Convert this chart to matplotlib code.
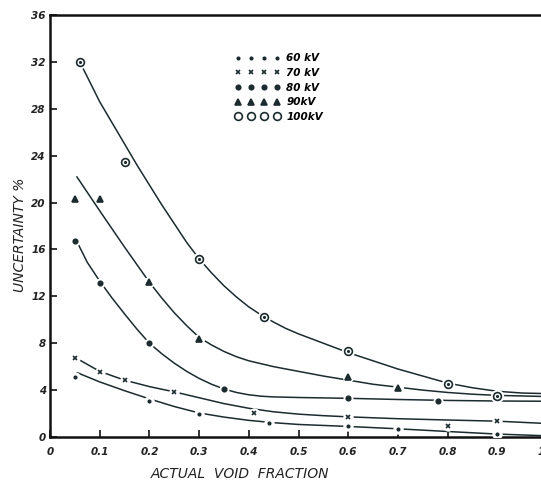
import matplotlib
matplotlib.use('Agg')
import matplotlib.pyplot as plt
from matplotlib.lines import Line2D

# measured points (actual void fraction, uncertainty %)
x60 = [0.05, 0.2, 0.3, 0.44, 0.6, 0.7, 0.9]
y60 = [5.1, 3.1, 2.0, 1.2, 0.9, 0.65, 0.25]
x70 = [0.05, 0.1, 0.15, 0.25, 0.41, 0.6, 0.8, 0.9]
y70 = [6.75, 5.55, 4.9, 3.85, 2.05, 1.7, 0.9, 1.35]
x80 = [0.05, 0.1, 0.2, 0.35, 0.6, 0.78]
y80 = [16.7, 13.1, 8.0, 4.1, 3.3, 3.1]
x90 = [0.05, 0.1, 0.2, 0.3, 0.6, 0.7, 0.9]
y90 = [20.3, 20.3, 13.2, 8.4, 5.1, 4.2, 3.5]
x100 = [0.06, 0.15, 0.30, 0.43, 0.6, 0.8, 0.9]
y100 = [32.0, 23.5, 15.2, 10.2, 7.3, 4.5, 3.5]

# hand-drawn fitted curves
cx60 = [0.054, 0.10, 0.15, 0.20, 0.25, 0.30, 0.35, 0.40, 0.45, 0.50, 0.60, 0.70, 0.80, 0.90, 1.0]
cy60 = [5.5, 4.7, 3.95, 3.25, 2.6, 2.05, 1.7, 1.42, 1.22, 1.07, 0.9, 0.7, 0.47, 0.25, 0.1]
cx70 = [0.056, 0.10, 0.15, 0.20, 0.25, 0.30, 0.35, 0.40, 0.45, 0.50, 0.55, 0.60, 0.70, 0.80, 0.90, 1.0]
cy70 = [6.65, 5.6, 4.85, 4.3, 3.85, 3.35, 2.85, 2.45, 2.15, 1.95, 1.82, 1.72, 1.56, 1.45, 1.35, 1.15]
cx80 = [0.055, 0.075, 0.10, 0.125, 0.15, 0.175, 0.20, 0.225, 0.25, 0.275, 0.30, 0.325, 0.35,
        0.375, 0.40, 0.425, 0.45, 0.50, 0.60, 0.70, 0.80, 0.90, 1.0]
cy80 = [16.6, 14.9, 13.3, 11.85, 10.5, 9.2, 8.0, 7.1, 6.3, 5.6, 5.0, 4.5, 4.1,
        3.8, 3.6, 3.48, 3.42, 3.37, 3.3, 3.2, 3.12, 3.07, 3.05]
cx90 = [0.054, 0.10, 0.15, 0.20, 0.225, 0.25, 0.275, 0.30, 0.325, 0.35, 0.375, 0.40, 0.45,
        0.50, 0.55, 0.60, 0.65, 0.70, 0.75, 0.80, 0.85, 0.90, 0.95, 1.0]
cy90 = [22.2, 19.3, 16.2, 13.2, 11.85, 10.6, 9.5, 8.5, 7.85, 7.3, 6.85, 6.5, 6.0,
        5.6, 5.2, 4.85, 4.5, 4.25, 4.0, 3.8, 3.65, 3.55, 3.5, 3.45]
cx100 = [0.06, 0.08, 0.10, 0.125, 0.15, 0.175, 0.20, 0.225, 0.25, 0.275, 0.30, 0.325, 0.35,
         0.375, 0.40, 0.425, 0.45, 0.475, 0.50, 0.55, 0.60, 0.65, 0.70, 0.75, 0.80, 0.85,
         0.90, 0.95, 1.0]
cy100 = [32.0, 30.3, 28.6, 26.8, 25.0, 23.2, 21.5, 19.8, 18.2, 16.6, 15.2, 14.0, 12.9,
         11.95, 11.1, 10.4, 9.8, 9.25, 8.8, 8.0, 7.2, 6.5, 5.8, 5.2, 4.6, 4.2,
         3.9, 3.75, 3.7]

labels = ['60 kV', '70 kV', '80 kV', '90kV', '100kV']
xticks = [0, 0.1, 0.2, 0.3, 0.4, 0.5, 0.6, 0.7, 0.8, 0.9, 1.0]
xticklabels = ['0', '0.1', '0.2', '0.3', '0.4', '0.5', '0.6', '0.7', '0.8', '0.9', '1.0']
yticks = [0, 4, 8, 12, 16, 20, 24, 28, 32, 36]

ink = '#1c2b2e'

fig = plt.figure(figsize=(5.41, 4.86), dpi=100)
ax = fig.add_axes([50 / 541, 49 / 486, 497 / 541, 422 / 486])

curves = [(cx60, cy60), (cx70, cy70), (cx80, cy80), (cx90, cy90), (cx100, cy100)]
for cx, cy in curves:
    ax.plot(cx, cy, color=ink, lw=1.1, zorder=2, solid_capstyle='round', solid_joinstyle='round')

points = [
    (x60, y60, '.', 3.5, ink),
    (x70, y70, 'x', 3.5, ink),
    (x80, y80, 'o', 3.2, ink),
    (x90, y90, '^', 4.0, ink),
    (x100, y100, 'o', 5.6, 'white'),
]
handles = []
for (px, py, mk, ms, fc), lab in zip(points, labels):
    # white halo so the curves break around the symbols
    ax.plot(px, py, ls='none', marker='o', ms=ms + 4, mfc='white', mec='none', zorder=3)
    ax.plot(px, py, ls='none', marker=mk, ms=ms, mfc=fc, mec=ink, mew=1.2, zorder=4)
    h = Line2D([], [], ls='none', marker=mk, ms=ms, mfc=fc, mec=ink, mew=1.2)
    handles.append(h)
# centre dot of the 100 kV symbols
ax.plot(x100, y100, ls='none', marker='.', ms=2.5, color=ink, zorder=5)

ax.set_xlim(0, 1.0)
ax.set_ylim(0, 36)
ax.set_xticks(xticks)
ax.set_xticklabels(xticklabels)
ax.set_yticks(yticks)

for s in ax.spines.values():
    s.set_linewidth(1.8)
    s.set_color('#111111')
ax.tick_params(direction='in', length=5, width=1.2, color='#111111')
ax.tick_params(axis='x', pad=7)
ax.tick_params(axis='y', pad=3)
for lab in ax.get_xticklabels() + ax.get_yticklabels():
    lab.set_fontstyle('italic')
    lab.set_fontweight('bold')
    lab.set_fontsize(7.5)
    lab.set_color('#222222')

fig.text(20 / 541, 1 - 235 / 486, 'UNCERTAINTY %', rotation=90, ha='center', va='center',
         fontsize=10, fontstyle='italic', color='#222222')
fig.text(240 / 541, 1 - 474 / 486, 'ACTUAL  VOID  FRACTION', ha='center', va='center',
         fontsize=10, fontstyle='italic', color='#222222')

leg = ax.legend(handles, labels, numpoints=4, frameon=False, loc='upper left',
                bbox_to_anchor=(230 / 541, 1 - 48 / 486), bbox_transform=fig.transFigure,
                handlelength=4.3, handletextpad=0.6, labelspacing=0.45, borderpad=0,
                prop={'size': 7.5, 'style': 'italic', 'weight': 'bold'})

fig.savefig('out.png', dpi=100)
